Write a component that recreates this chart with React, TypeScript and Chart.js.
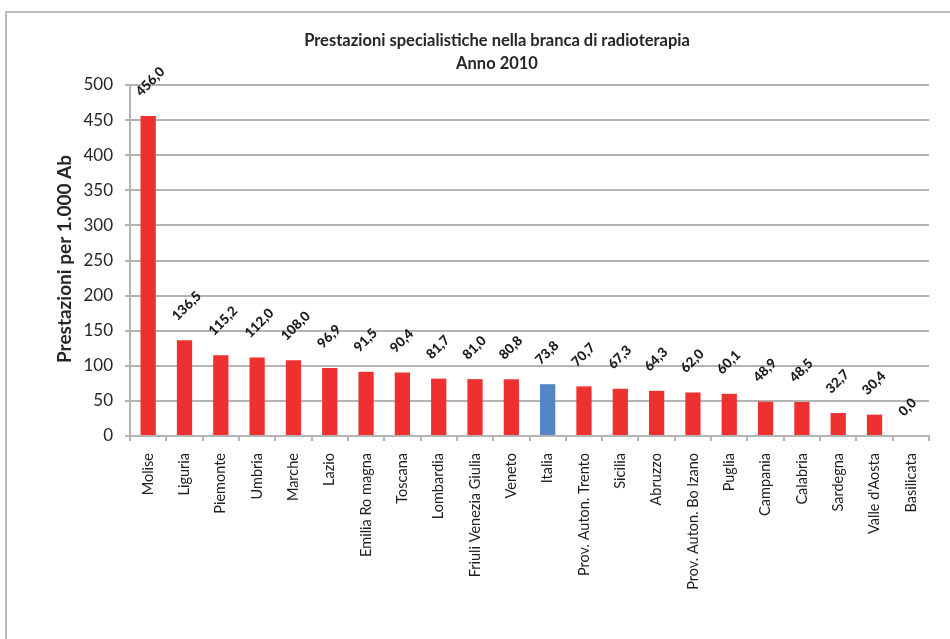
import React, { useEffect, useRef } from "react";
import { Chart, registerables } from "chart.js";

Chart.register(...registerables);

const categories = [
  "Molise",
  "Liguria",
  "Piemonte",
  "Umbria",
  "Marche",
  "Lazio",
  "Emilia Ro magna",
  "Toscana",
  "Lombardia",
  "Friuli Venezia Giulia",
  "Veneto",
  "Italia",
  "Prov. Auton. Trento",
  "Sicilia",
  "Abruzzo",
  "Prov. Auton. Bo lzano",
  "Puglia",
  "Campania",
  "Calabria",
  "Sardegna",
  "Valle d'Aosta",
  "Basilicata",
];

const values = [
  456.0, 136.5, 115.2, 112.0, 108.0, 96.9, 91.5, 90.4, 81.7, 81.0, 80.8, 73.8,
  70.7, 67.3, 64.3, 62.0, 60.1, 48.9, 48.5, 32.7, 30.4, 0.0,
];

const highlightCategory = "Italia";
const titleLines = [
  "Prestazioni specialistiche nella branca di radioterapia",
  "Anno 2010",
];
const yAxisTitle = "Prestazioni per 1.000 Ab";

const RED = "#EE3130";
const BLUE = "#5585C5";
const GRID = "#B4B4B4";
const FONT = "Lato, 'Liberation Sans', sans-serif";

const fmt = (v: number) => v.toFixed(1).replace(".", ",");

const overlayPlugin = {
  id: "overlay",
  afterDraw(chart: any) {
    const ctx = chart.ctx;
    ctx.save();
    // Title
    ctx.fillStyle = "#262626";
    ctx.font = `bold 16.5px ${FONT}`;
    ctx.textAlign = "center";
    ctx.textBaseline = "middle";
    ctx.fillText(titleLines[0], 497, 41);
    ctx.fillText(titleLines[1], 497, 64);
    // Y axis title
    ctx.save();
    ctx.translate(65, 259);
    ctx.rotate(-Math.PI / 2);
    ctx.font = `bold 19px ${FONT}`;
    ctx.fillText(yAxisTitle, 0, 0);
    ctx.restore();
    // Data labels
    const meta = chart.getDatasetMeta(0);
    ctx.font = `900 13.5px ${FONT}`;
    ctx.fillStyle = "#1a1a1a";
    ctx.textAlign = "left";
    ctx.textBaseline = "middle";
    meta.data.forEach((bar: any, i: number) => {
      const v = values[i];
      ctx.save();
      ctx.translate(bar.x - 10, bar.y - 22);
      ctx.rotate(-Math.PI / 4);
      ctx.fillText(fmt(v), 0, 0);
      ctx.restore();
    });
    ctx.restore();
  },
};

export default function App() {
  const ref = useRef<HTMLCanvasElement>(null);
  useEffect(() => {
    if (!ref.current) return;
    const chart = new Chart(ref.current, {
      type: "bar",
      data: {
        labels: categories,
        datasets: [
          {
            data: values,
            backgroundColor: categories.map((c) =>
              c === highlightCategory ? BLUE : RED
            ),
            barPercentage: 0.42,
            categoryPercentage: 1,
            borderWidth: 0,
          },
        ],
      },
      options: {
        animation: false,
        responsive: false,
        maintainAspectRatio: false,
        layout: { padding: { top: 85, left: 0, right: 21, bottom: 0 } },
        plugins: {
          legend: { display: false },
          title: { display: false },
          tooltip: { enabled: false },
        },
        scales: {
          x: {
            afterFit: (s: any) => {
              s.height = 203;
            },
            grid: {
              drawOnChartArea: false,
              drawTicks: true,
              tickLength: 5,
              color: GRID,
              lineWidth: 2,
              offset: true,
            },
            border: { display: true, color: GRID, width: 2 },
            ticks: {
              autoSkip: false,
              minRotation: 90,
              maxRotation: 90,
              padding: 12,
              color: "#1f1f1f",
              font: { family: FONT, size: 14.5 },
            },
          },
          y: {
            min: 0,
            max: 500,
            afterFit: (s: any) => {
              s.width = 130;
            },
            grid: {
              color: GRID,
              lineWidth: 2,
              drawTicks: true,
              tickLength: 5,
            },
            border: { display: true, color: GRID, width: 2 },
            ticks: {
              stepSize: 50,
              padding: 12,
              color: "#262626",
              font: { family: FONT, size: 17 },
            },
          },
        },
      },
      plugins: [overlayPlugin],
    });
    return () => chart.destroy();
  }, []);

  return (
    <div
      style={{
        position: "fixed",
        left: 0,
        top: 0,
        width: 950,
        height: 639,
        overflow: "hidden",
        background: "#fff",
      }}
    >
      <div
        style={{
          position: "absolute",
          left: 5,
          top: 11,
          width: 1000,
          height: 700,
          border: "2px solid #BDBDBD",
        }}
      />
      <canvas
        ref={ref}
        width={950}
        height={639}
        style={{ position: "absolute", left: 0, top: 0, width: 950, height: 639 }}
      />
    </div>
  );
}
